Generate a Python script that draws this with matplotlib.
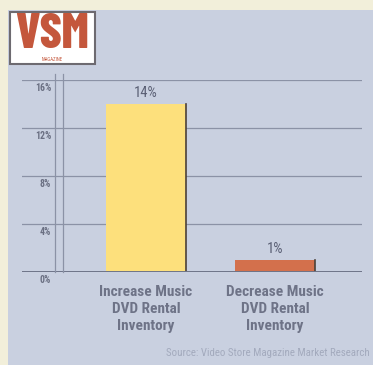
import matplotlib
matplotlib.use("Agg")
import matplotlib.pyplot as plt
import matplotlib.transforms as mtransforms
from matplotlib.patches import Rectangle
from matplotlib.lines import Line2D

categories = ["Increase Music\nDVD Rental\nInventory", "Decrease Music\nDVD Rental\nInventory"]
values = [14, 1]
value_labels = ["14%", "1%"]
yticks = [0, 4, 8, 12, 16]
ytick_labels = ["0%", "4%", "8%", "12%", "16%"]
bar_colors = ["#fde07c", "#d3704c"]
source = "Source: Video Store Magazine Market Research"

COND = ["Roboto Condensed", "DejaVu Sans"]
plt.rcParams['font.family'] = COND

W, H = 373, 365
fig = plt.figure(figsize=(W / 100, H / 100), dpi=100)
fig.patch.set_facecolor("#f2efda")

def fx(px):
    return px / W

def fy(py):
    return 1 - py / H

# panel background
fig.patches.append(Rectangle((fx(8), 0), 1 - fx(8), fy(10), transform=fig.transFigure,
                             facecolor="#c9d0e0", edgecolor="none", zorder=-2))

# logo box
fig.patches.append(Rectangle((fx(10), fy(64)), fx(85), (64 - 12) / H, transform=fig.transFigure,
                             facecolor="white", edgecolor="#6d6a70", linewidth=1.5, zorder=1))
fig.text(fx(52), fy(35), "VSM", ha="center", va="center", fontsize=35, fontweight="heavy",
         color="#c4573c", zorder=2, family=["Barlow Condensed", "Roboto Condensed", "DejaVu Sans"])
fig.text(fx(52), fy(59.5), "MAGAZINE", ha="center", va="center", fontsize=3.5, color="#c4573c",
         zorder=2)

# chart axes: x pixels 22..362, y pixels 80..272
ax = fig.add_axes([fx(22), fy(272), fx(362) - fx(22), (272 - 80) / H])
ax.set_facecolor("none")
ax.set_ylim(0, 16)
ax.set_xlim(-0.961, 1.674)
for s in ax.spines.values():
    s.set_visible(False)
ax.set_xticks([])
ax.set_yticks([])

for t in yticks[1:]:
    ax.axhline(t, color="#8b92a6", linewidth=0.9, zorder=1)
ax.axhline(0, color="#6e7488", linewidth=1.4, zorder=3)

x = list(range(len(categories)))
bars = ax.bar(x, values, width=0.62, color=bar_colors, zorder=2, edgecolor="none")
for b in bars:
    xr = b.get_x() + b.get_width()
    ax.plot([xr, xr], [0, b.get_height()], color="#4b4038", linewidth=1.2, zorder=2.5)

for xi, v, lab in zip(x, values, value_labels):
    ax.text(xi, v + 0.35, lab, ha="center", va="bottom", fontsize=10.5, color="#5a5f74")

for xi, cat in zip(x, categories):
    ax.text(xi, -1.05, cat, ha="center", va="top", fontsize=11, fontweight="bold",
            color="#6e7387", linespacing=1.3)

trans = mtransforms.blended_transform_factory(fig.transFigure, ax.transData)
for t, lab in zip(yticks, ytick_labels):
    ax.text(fx(51), t - 0.25, lab, transform=trans, ha="right", va="top", fontsize=7,
            fontweight="bold", color="#6a6f82")

# y axis double lines
for px in (55, 63):
    fig.lines.append(Line2D([fx(px), fx(px)], [fy(272), fy(74)], transform=fig.transFigure,
                            color="#8b92a6", linewidth=0.9))

fig.text(fx(370), fy(353), source, ha="right", va="center", fontsize=7.8, color="#a3aabd")

fig.savefig("out.png", dpi=100, facecolor=fig.get_facecolor())
